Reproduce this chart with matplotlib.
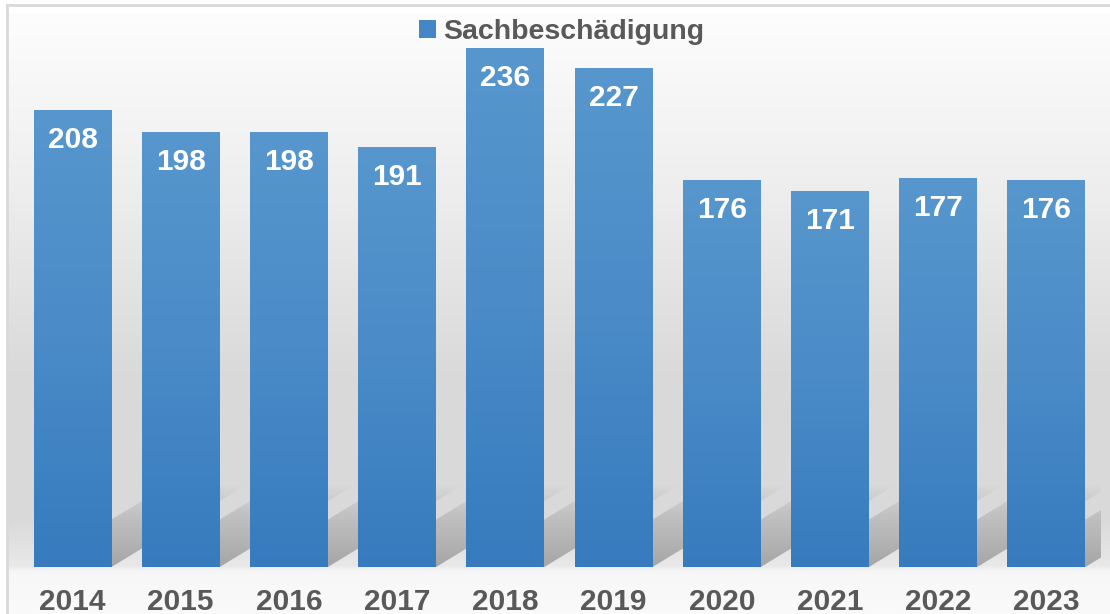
import numpy as np
import matplotlib
matplotlib.use("Agg")
import matplotlib.pyplot as plt
from matplotlib.patches import Patch, Polygon
from matplotlib.colors import LinearSegmentedColormap
from matplotlib.lines import Line2D

plt.rcParams['font.family'] = ['Liberation Sans', 'DejaVu Sans']

# data
jahre = ["2014", "2015", "2016", "2017", "2018", "2019", "2020", "2021", "2022", "2023"]
werte = [208, 198, 198, 191, 236, 227, 176, 171, 177, 176]
serie = "Sachbeschädigung"

W, H = 1110, 614
fig = plt.figure(figsize=(W / 100, H / 100), dpi=100)

# background with grey gradient inside the frame
bg = fig.add_axes([0, 0, 1, 1], zorder=0)
bg.set_xlim(0, W)
bg.set_ylim(H, 0)
bg.axis("off")
stops = [(0.0, "#ffffff"), (5, "#ffffff"), (6, "#fdfdfd"), (150, "#f1f1f1"),
         (380, "#d9d9d9"), (520, "#dadada"), (566, "#e8e8e8"), (574, "#f7f7f7"),
         (614, "#fafafa")]
bg_cmap = LinearSegmentedColormap.from_list("bg", [(p / H, c) for p, c in stops])
grad = np.linspace(0, 1, 600).reshape(-1, 1)
bg.imshow(grad, cmap=bg_cmap, aspect="auto", extent=[7, W, H, 5], origin="upper")
bg.add_line(Line2D([7, W], [5, 5], color="#d9d9d9", lw=2))
bg.add_line(Line2D([7, 7], [5, H], color="#d9d9d9", lw=2))

# main axes
left, right = 18.4 / W, 1100.5 / W
bottom, top = (H - 567) / H, (H - 17.5) / H
ax = fig.add_axes([left, bottom, right - left, top - bottom], zorder=1)
ax.patch.set_alpha(0)
ax.set_xlim(-0.5, len(jahre) - 0.5)
ax.set_ylim(0, 250)
for s in ax.spines.values():
    s.set_visible(False)
ax.set_yticks([])

x = np.arange(len(jahre))
breite = 0.72

# floor shadows slanting up to the right, fading with distance
steig = 30
laenge = 1.25
schatten = np.zeros((64, 1, 4))
schatten[..., :3] = 0.42
schatten[:, 0, 3] = np.linspace(0.5, 0.0, 64) ** 0.9
for xi in x:
    xl, xr = xi - breite / 2, xi + breite / 2
    poly = Polygon([(xl, 0), (xr, 0), (xr + laenge, steig * laenge),
                    (xl + laenge, steig * laenge)],
                   closed=True, facecolor="none", edgecolor="none")
    ax.add_patch(poly)
    im = ax.imshow(schatten, origin="lower", aspect="auto",
                   extent=[xl, xr + laenge, 0, steig * laenge], zorder=1,
                   interpolation="bilinear")
    im.set_clip_path(poly)

bar_cmap = LinearSegmentedColormap.from_list("bar", ["#377bbe", "#4a8bc8", "#5797cd"])
bars = ax.bar(x, werte, width=breite, color="none", zorder=3)
for b, v in zip(bars, werte):
    x0 = b.get_x()
    im = ax.imshow(np.linspace(0, 1, 256).reshape(-1, 1), cmap=bar_cmap,
                   origin="lower", aspect="auto",
                   extent=[x0, x0 + b.get_width(), 0, v], zorder=3)
    im.set_clip_path(b)
    ax.annotate(str(v), (b.get_x() + b.get_width() / 2, v), xytext=(0, -21.5),
                textcoords="offset points", ha="center", va="center",
                color="white", fontsize=21.5, fontweight="bold", zorder=4)

ax.set_xticks(x)
ax.set_xticklabels(jahre, fontsize=21.5, fontweight="bold", color="#595959")
ax.tick_params(axis="x", length=0, pad=15)

fig.legend(handles=[Patch(facecolor="#4586c6", edgecolor="none", label=serie)],
           loc="center", bbox_to_anchor=(561.5 / W, 1 - 32 / H), frameon=False,
           prop={"size": 20.5, "weight": "bold"}, labelcolor="#595959",
           handlelength=0.6, handleheight=0.6, handletextpad=0.25,
           borderaxespad=0, borderpad=0)

fig.savefig("out.png", dpi=100)
